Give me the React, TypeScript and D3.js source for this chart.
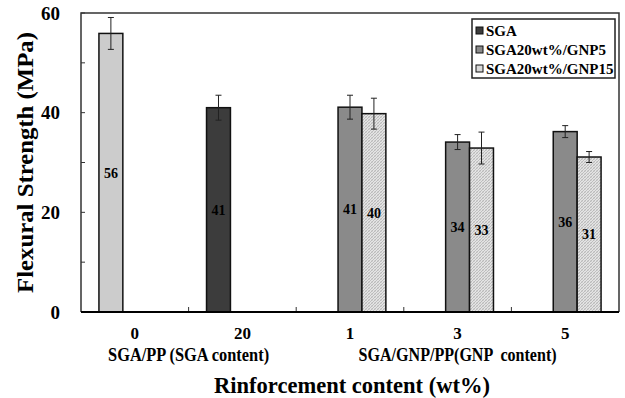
import * as d3 from "d3";

// categories on the x axis
const categories = ["0", "20", "1", "3", "5"];
const seriesKeys = ["SGA", "GNP5", "GNP15"];
const legendLabels = ["SGA", "SGA20wt%/GNP5", "SGA20wt%/GNP15"];

// values (MPa), null = no bar
const ppValues = [55.9, null, null, null, null];
const ppErrors = [3.2, null, null, null, null];
const sgaValues = [null, 41.0, null, null, null];
const sgaErrors = [null, 2.5, null, null, null];
const gnp5Values = [null, null, 41.1, 34.1, 36.2];
const gnp5Errors = [null, null, 2.4, 1.5, 1.2];
const gnp15Values = [null, null, 39.8, 32.9, 31.1];
const gnp15Errors = [null, null, 3.1, 3.2, 1.1];

const yTicks = [0, 20, 40, 60];
const groupLabels = [
  { text: "SGA/PP (SGA content)", from: "0", to: "20", len: 161 },
  { text: "SGA/GNP/PP(GNP  content)", from: "3", to: "3", len: 198 },
];

const W = 625;
const H = 398;
const margin = { left: 81, top: 13, right: 6, bottom: 86 };
const font = "'Liberation Serif', 'DejaVu Serif', 'Times New Roman', serif";

const colors: Record<string, string> = {
  PP: "#cccccc",
  SGA: "#3c3c3c",
  GNP5: "#8a8a8a",
  GNP15: "url(#hatch)",
};

export default function App() {
  const x = d3
    .scaleBand()
    .domain(categories)
    .range([margin.left, W - margin.right]);
  const bw = x.bandwidth();
  const slot = d3
    .scaleBand()
    .domain(seriesKeys)
    .range([bw / 6, bw - bw / 6]);
  const y = d3
    .scaleLinear()
    .domain([0, 60])
    .range([H - margin.bottom, margin.top]);

  // flatten everything into one list of bars
  const bars: any[] = [];
  const push = (vals: any[], errs: any[], key: string, colorKey: string) => {
    vals.forEach((v, i) => {
      if (v == null) return;
      bars.push({ cat: categories[i], key, value: v, err: errs[i], fill: colors[colorKey] });
    });
  };
  push(ppValues, ppErrors, "SGA", "PP");
  push(sgaValues, sgaErrors, "SGA", "SGA");
  push(gnp5Values, gnp5Errors, "GNP5", "GNP5");
  push(gnp15Values, gnp15Errors, "GNP15", "GNP15");

  const y0 = y(0);
  const x0 = margin.left;
  const x1 = W - margin.right;

  return (
    <svg
      width={W}
      height={H}
      style={{ position: "absolute", left: 0, top: 0, background: "#fff" }}
    >
      <defs>
        <pattern id="hatch" width="3" height="3" patternUnits="userSpaceOnUse">
          <rect width="3" height="3" fill="#e4e4e4" />
          <path d="M0,3 L3,0" stroke="#a8a8a8" strokeWidth="0.7" />
          <path d="M0,0 L3,3" stroke="#c4c4c4" strokeWidth="0.5" />
        </pattern>
      </defs>

      <g style={{ fontFamily: font, fontWeight: 700 }}>
        {/* frame */}
        <path
          d={`M${x0},${y0} V${margin.top} H${x1} V${y0}`}
          fill="none"
          stroke="#333"
          strokeWidth={1.5}
        />

        {/* y ticks */}
        {d3.range(0, 61, 10).map((t) => (
          <line key={t} x1={x0} x2={x0 + 4} y1={y(t)} y2={y(t)} stroke="#333" strokeWidth={1} />
        ))}
        {yTicks.map((t) => (
          <text key={t} x={60} y={y(t)} dy="0.35em" textAnchor="end" fontSize={19}>
            {t}
          </text>
        ))}

        {/* bars */}
        {bars.map((b, i) => {
          const bx = (x(b.cat) as number) + (slot(b.key) as number);
          const cx = bx + slot.bandwidth() / 2;
          return (
            <g key={i}>
              <rect
                x={bx}
                y={y(b.value)}
                width={slot.bandwidth()}
                height={y0 - y(b.value)}
                fill={b.fill}
                stroke="#111"
                strokeWidth={1.5}
              />
              <g stroke="#222" strokeWidth={1}>
                <line x1={cx} x2={cx} y1={y(b.value + b.err)} y2={y(b.value - b.err)} />
                <line x1={cx - 3} x2={cx + 3} y1={y(b.value + b.err)} y2={y(b.value + b.err)} />
                <line x1={cx - 3} x2={cx + 3} y1={y(b.value - b.err)} y2={y(b.value - b.err)} />
              </g>
              <text x={cx} y={y(b.value / 2)} dy="0.35em" textAnchor="middle" fontSize={14}>
                {d3.format(".0f")(b.value)}
              </text>
            </g>
          );
        })}

        {/* x axis */}
        {categories.slice(1).map((c) => (
          <line
            key={c}
            x1={x(c) as number}
            x2={x(c) as number}
            y1={y0}
            y2={y0 - 5}
            stroke="#333"
            strokeWidth={1}
          />
        ))}
        <line x1={x0} x2={x1} y1={y0} y2={y0} stroke="#000" strokeWidth={2} />
        {categories.map((c) => (
          <text key={c} x={(x(c) as number) + bw / 2} y={333} dy="0.35em" textAnchor="middle" fontSize={17}>
            {c}
          </text>
        ))}
        {groupLabels.map((g) => {
          const cx = ((x(g.from) as number) + (x(g.to) as number) + bw) / 2;
          return (
            <text
              key={g.text}
              x={cx}
              y={355}
              dy="0.35em"
              textAnchor="middle"
              fontSize={18}
              textLength={g.len}
              lengthAdjust="spacingAndGlyphs"
              style={{ whiteSpace: "pre" }}
            >
              {g.text}
            </text>
          );
        })}

        {/* axis titles */}
        <text
          x={352}
          y={385}
          dy="0.35em"
          textAnchor="middle"
          fontSize={23}
          textLength={276}
          lengthAdjust="spacingAndGlyphs"
        >
          Rinforcement content (wt%)
        </text>
        <text
          transform={`translate(25,${(margin.top + y0) / 2}) rotate(-90)`}
          dy="0.35em"
          textAnchor="middle"
          fontSize={23}
          textLength={261}
          lengthAdjust="spacingAndGlyphs"
        >
          Flexural Strength (MPa)
        </text>

        {/* legend */}
        <rect x={472} y={19} width={143} height={59} fill="#fff" stroke="#222" strokeWidth={1.5} />
        {seriesKeys.map((k, i) => (
          <g key={k} transform={`translate(476,${31 + i * 19})`}>
            <rect
              x={0}
              y={-4}
              width={7}
              height={7}
              fill={k === "GNP15" ? "#d8d8d8" : colors[k]}
              stroke="#111"
              strokeWidth={1}
            />
            <text x={10} y={0} dy="0.35em" fontSize={15}>
              {legendLabels[i]}
            </text>
          </g>
        ))}
      </g>
    </svg>
  );
}
